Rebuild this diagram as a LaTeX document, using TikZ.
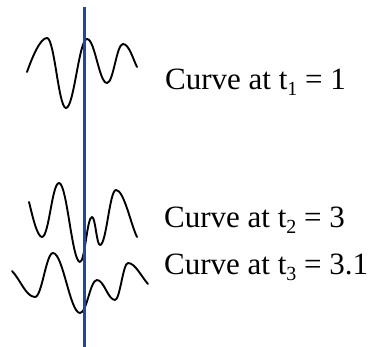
\documentclass[tikz,border=0pt]{standalone}
\usepackage{fontspec}
\setmainfont{Liberation Serif}
\definecolor{axisblue}{RGB}{40,70,148}
\newcommand{\sbs}[1]{\raisebox{-0.17em}{\fontsize{20}{20}\selectfont #1}}
\begin{document}
\begin{tikzpicture}[x=1pt,y=1pt,
  curve/.style={line width=1.9pt, black, line join=round, line cap=round},
  axis/.style={line width=2.6pt, axisblue},
  label/.style={anchor=base west, inner sep=0pt, font=\fontsize{31}{37}\selectfont}]
\useasboundingbox (0,0) rectangle (372,-347);
% curve 1
\draw[curve] (27,-72) .. controls +(5,14) and +(-7,0) .. (47,-38)
  .. controls +(7.5,0) and +(-7.5,0) .. (66,-108)
  .. controls +(8,0) and +(-8,0) .. (87,-39)
  .. controls +(8,0) and +(-8,0) .. (107,-83)
  .. controls +(6.5,0) and +(-6.5,0) .. (123,-44)
  .. controls +(6,0) and +(-4,8) .. (137,-67);
% curve 2
\draw[curve] (29,-202) .. controls +(3,-12) and +(-5,0) .. (42,-237)
  .. controls +(7,0) and +(-7,0) .. (59,-183)
  .. controls +(8,0) and +(-8,0) .. (80,-262)
  .. controls +(5,0) and +(-5,0) .. (92,-217)
  .. controls +(3.5,0) and +(-3.5,0) .. (100,-245)
  .. controls +(6.5,0) and +(-6.5,0) .. (116,-190)
  .. controls +(8,0) and +(-6,12) .. (137,-237);
% curve 3
\draw[curve] (12,-271) .. controls +(8,-8) and +(-9,0) .. (35,-297)
  .. controls +(7,0) and +(-7,0) .. (53,-253)
  .. controls +(10,0) and +(-10,0) .. (80,-313)
  .. controls +(7,0) and +(-7,0) .. (97,-280)
  .. controls +(7,0) and +(-7,0) .. (115,-300)
  .. controls +(5,0) and +(-5,0) .. (128,-263)
  .. controls +(7,0) and +(-7,8) .. (148,-284);
% vertical line
\coordinate (top) at (84.5,-7);
\coordinate (bot) at (84.5,-347);
\draw[axis] (top) -- (bot);
% labels
\node[label] (l1) at (165,-90) {Curve at t\sbs{1} = 1};
\node[label] (l2) at (164,-228) {Curve at t\sbs{2} = 3};
\node[label] (l3) at (164,-275) {Curve at t\sbs{3} = 3.1};
\end{tikzpicture}
\end{document}
